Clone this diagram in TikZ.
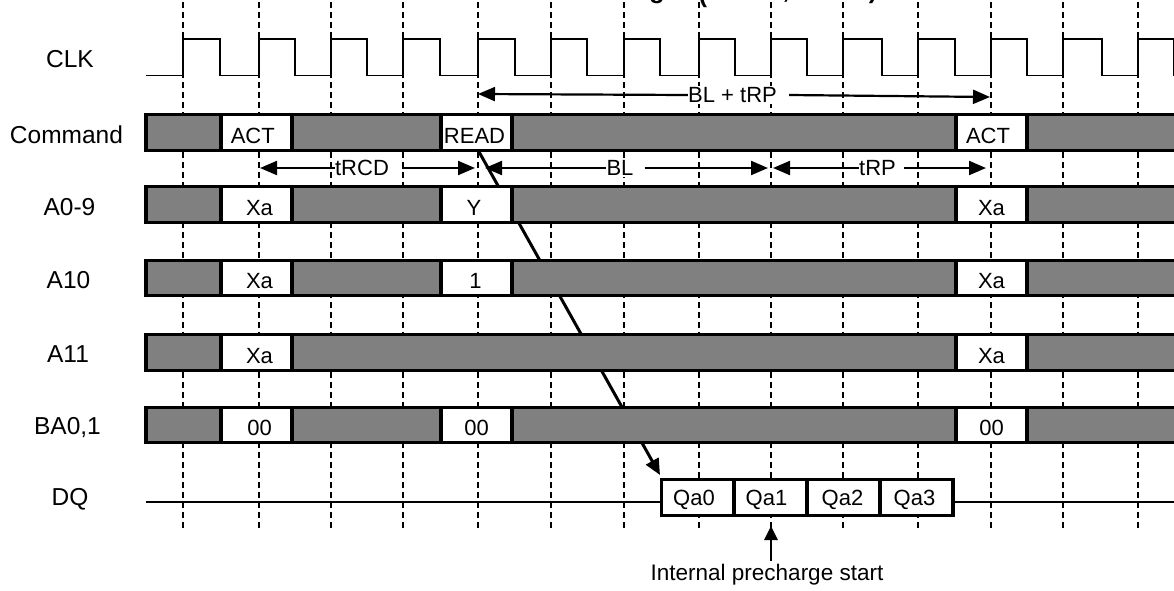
\documentclass[tikz,border=0pt]{standalone}
\usepackage{fontspec}
\setmainfont{Liberation Sans}
\usetikzlibrary{arrows.meta}

\tikzset{
  sig/.style={font=\fontsize{22}{26}\selectfont},
  signame/.style={font=\fontsize{24.5}{28}\selectfont},
  titlebit/.style={font=\fontsize{25}{28}\bfseries\selectfont, anchor=base},
  clockline/.style={line width=1.4pt},
  guide/.style={line width=2pt, dash pattern=on 5.5pt off 4.5pt},
  bus/.style={draw=black, fill=black!50, line width=3.4pt},
  cell/.style={sig, draw=black, fill=white, line width=3.4pt, inner sep=0pt, outer sep=0pt, minimum height=35.5pt, text height=21pt, text depth=0pt},
  span/.style={sig, fill=white, inner xsep=0pt, inner ysep=1pt},
  >={Triangle[length=17pt,width=14pt]}
}

\begin{document}
\begin{tikzpicture}[x=1pt,y=-1pt]

\useasboundingbox (0,0) rectangle (1174,590);

% what is left of the title
\node [titlebit] (titleg) at (657,-2) {g};
\node [titlebit] (titleo) at (703,2) {(};
\node [titlebit] (titlea) at (786,-1.5) {,};
\node [titlebit] (titleb) at (873,-2) {)};

% draw clock guides
\foreach \x in {183,259,331,403,478,551,624,699,771,843,918,991,1063,1138}
  \draw [guide] (\x,2) -- (\x,531);

% draw clock
\draw [clockline] (146,75.5) -- (183,75.5);
\foreach \r/\f/\n in {183/220/259,259/295/331,331/367/403,403/440/478,478/515/551,551/587/624,624/660/699,699/735/771,771/807/843,843/882/918,918/955/991,991/1027/1063,1063/1102/1138,1138/1174/1174}
  \draw [clockline] (\r,75.5) -- (\r,39) -- (\f,39) -- (\f,75.5) -- (\n,75.5);

% draw signal names
\foreach \name/\txt/\x/\y in {clk/CLK/70/59,command/Command/66.5/134.5,addr/A0-9/69.5/207,aten/A10/68.5/280,aeleven/A11/68/354,bank/BA0{,}1/67.5/427.5,dq/DQ/70/499}
  \node [signame] (\name) at (\x,\y) {\txt};

% data cells first, the read arrow ends on them
\tikzset{qcell/.style={cell, text height=16pt}}
\node [qcell, minimum width=72.5pt] (qa0) at (698,497.5) {\hspace{-8pt}Qa0};
\node [qcell, minimum width=73pt] (qa1) at (770.5,497.5) {\hspace{-8pt}Qa1};
\node [qcell, minimum width=73pt] (qa2) at (843.5,497.5) {\hspace{-2pt}Qa2};
\node [qcell, minimum width=73pt] (qa3) at (916.5,497.5) {\hspace{-4pt}Qa3};
\coordinate (dqleft) at (146,502);
\coordinate (dqright) at (1174,502);
\draw [line width=1.5pt] (dqleft) -- (qa0.west |- dqleft);
\draw [line width=1.5pt] (qa3.east |- dqright) -- (dqright);

% draw read arrow, the buses go over it
\coordinate (readtop) at (478,150);
\coordinate (readtip) at (660,475);
\draw [->, line width=3pt, >={Triangle[length=16pt,width=14pt]}] (readtop) -- (readtip);

% draw buses
\foreach \y in {132.5,204.5,278,352.5,425}
  \draw [bus] (146,\y-17.75) rectangle (1180,\y+17.75);

\tikzset{act/.style={cell, minimum width=71pt}}
\node [act] (actone) at (256.5,132.5) {\hspace{-7.5pt}ACT};
\node [act] (read) at (476.5,132.5) {\hspace{-4pt}READ};
\node [act] (acttwo) at (991.5,132.5) {\hspace{-7pt}ACT};

\node [act] (xaone) at (256.5,204.5) {\hspace{6pt}Xa};
\node [act] (yaddr) at (476.5,204.5) {\hspace{-5pt}Y};
\node [act] (xatwo) at (991.5,204.5) {Xa};

\node [act] (xathree) at (256.5,278) {\hspace{6pt}Xa};
\node [act] (auto) at (476.5,278) {\hspace{-2pt}1};
\node [act] (xafour) at (991.5,278) {Xa};

\node [act] (xafive) at (256.5,352.5) {\hspace{6pt}Xa};
\node [act] (xasix) at (991.5,352.5) {Xa};

\node [act] (bankone) at (256.5,425) {\hspace{6pt}00};
\node [act] (banktwo) at (476.5,425) {00};
\node [act] (bankthree) at (991.5,425) {00};

% draw timing spans
\node [span] (blrp) at (738.5,95) {BL + tRP\hspace{12pt}\null};
\coordinate (blrpa) at (478,94);
\coordinate (blrpb) at (990,97);
\draw [<-, line width=2.2pt] (blrpa) -- (blrp.west);
\draw [->, line width=2.2pt] (blrp.east) -- (blrpb);

\node [span] (trcd) at (368.5,168) {tRCD\hspace{13pt}\null};
\coordinate (trcda) at (260,168);
\coordinate (trcdb) at (475,168);
\draw [<-, line width=2.2pt] (trcda) -- (trcd.west);
\draw [->, line width=2.2pt] (trcd.east) -- (trcdb);

\node [span] (bl) at (625.5,168) {BL\hspace{11pt}\null};
\coordinate (bla) at (485,168);
\coordinate (blb) at (768,168);
\draw [<-, line width=2.2pt] (bla) -- (bl.west);
\draw [->, line width=2.2pt] (bl.east) -- (blb);

\node [span] (trp) at (881.5,168) {tRP\hspace{8pt}\null};
\coordinate (trpa) at (773,168);
\coordinate (trpb) at (986,168);
\draw [<-, line width=2.2pt] (trpa) -- (trp.west);
\draw [->, line width=2.2pt] (trp.east) -- (trpb);

% draw precharge mark
\node [sig, font=\fontsize{22.5}{26}\selectfont] (intstart) at (767,575) {Internal precharge start};
\coordinate (intstarttip) at (771,526);
\draw [->, line width=2.8pt, >={Triangle[length=14pt,width=13pt]}] (intstarttip |- intstart.north) -- (intstarttip);

\end{tikzpicture}
\end{document}
